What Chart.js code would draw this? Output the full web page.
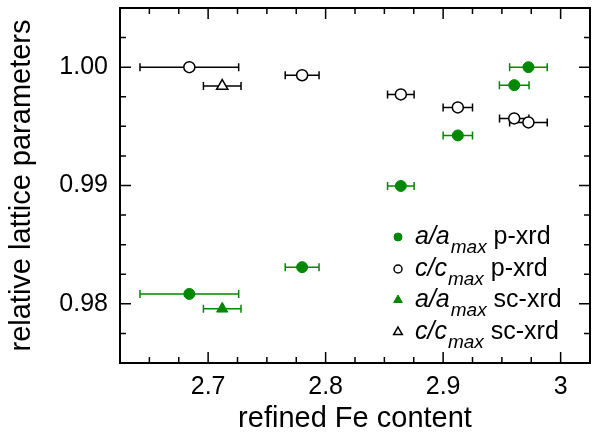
<!DOCTYPE html>
<html><head><meta charset="utf-8">
<script src="https://cdn.jsdelivr.net/npm/chart.js@4.4.0/dist/chart.umd.min.js"></script>
<style>html,body{margin:0;padding:0;background:#fff;} canvas{display:block;}</style>
</head><body>
<canvas id="c" width="598" height="434"></canvas>
<script>
// ---- data ----
const xTicks = [2.7, 2.8, 2.9, 3];
const yTicks = [0.98, 0.99, 1.00];

const aP_x    = [2.684, 2.780, 2.864, 2.9125, 2.9605, 2.9726];
const aP_y    = [0.98084, 0.98310, 0.98996, 0.99423, 0.99848, 1.00000];
const aP_xerr = [0.042, 0.0144, 0.0113, 0.0125, 0.0126, 0.016];

const cP_x    = [2.684, 2.780, 2.864, 2.9125, 2.9605, 2.9726];
const cP_y    = [1.00000, 0.99932, 0.99770, 0.99660, 0.99567, 0.99533];
const cP_xerr = [0.042, 0.0144, 0.0113, 0.0125, 0.0125, 0.016];

const aS_x = [2.712], aS_y = [0.97958], aS_xerr = [0.016];
const cS_x = [2.712], cS_y = [0.99840], cS_xerr = [0.016];

const legendMain   = ['a/a', 'c/c', 'a/a', 'c/c'];
const legendSub    = 'max';
const legendSuffix = ['p-xrd', 'p-xrd', 'sc-xrd', 'sc-xrd'];

// ---- styling ----
const FONT = "'Liberation Sans', Arial, Helvetica, sans-serif";
const GREEN = '#008800';
const pts = (xs, ys) => xs.map((x, i) => ({x, y: ys[i]}));

const datasets = [
  {label: 'a/amax p-xrd', data: pts(aP_x, aP_y), xerr: aP_xerr, pointStyle: 'circle', pointRadius: 5.5,
   backgroundColor: GREEN, borderColor: GREEN, borderWidth: 1, errColor: GREEN},
  {label: 'c/cmax p-xrd', data: pts(cP_x, cP_y), xerr: cP_xerr, pointStyle: 'circle', pointRadius: 5.5,
   backgroundColor: '#fff', borderColor: '#000', borderWidth: 1.5, errColor: '#000'},
  {label: 'a/amax sc-xrd', data: pts(aS_x, aS_y), xerr: aS_xerr, pointStyle: 'triangle', pointRadius: 6.5,
   backgroundColor: GREEN, borderColor: GREEN, borderWidth: 1, errColor: GREEN},
  {label: 'c/cmax sc-xrd', data: pts(cS_x, cS_y), xerr: cS_xerr, pointStyle: 'triangle', pointRadius: 6.5,
   backgroundColor: '#fff', borderColor: '#000', borderWidth: 1.5, errColor: '#000'}
];

const errorBars = {
  id: 'errorBars',
  beforeDatasetsDraw(chart) {
    const ctx = chart.ctx, xs = chart.scales.x, ys = chart.scales.y;
    ctx.save();
    chart.data.datasets.forEach(ds => {
      ctx.strokeStyle = ds.errColor; ctx.lineWidth = 1.5;
      ds.data.forEach((p, i) => {
        const e = ds.xerr[i];
        const x1 = xs.getPixelForValue(p.x - e), x2 = xs.getPixelForValue(p.x + e);
        const y = ys.getPixelForValue(p.y);
        ctx.beginPath();
        ctx.moveTo(x1, y); ctx.lineTo(x2, y);
        ctx.moveTo(x1, y - 4); ctx.lineTo(x1, y + 4);
        ctx.moveTo(x2, y - 4); ctx.lineTo(x2, y + 4);
        ctx.stroke();
      });
    });
    ctx.restore();
  }
};

const frame = {
  id: 'frame',
  afterDatasetsDraw(chart) {
    const ctx = chart.ctx, a = chart.chartArea, xs = chart.scales.x, ys = chart.scales.y;
    ctx.save();
    ctx.strokeStyle = '#000';
    ctx.lineWidth = 1.5;
    const majorX = new Set(xTicks.map(v => v.toFixed(3)));
    for (let k = 0; ; k++) {
      const v = xs.min + k * 0.025;
      if (v > xs.max + 1e-9) break;
      const px = xs.getPixelForValue(v);
      const len = majorX.has(v.toFixed(3)) ? 11 : 6;
      ctx.beginPath();
      ctx.moveTo(px, a.bottom); ctx.lineTo(px, a.bottom - len);
      ctx.moveTo(px, a.top); ctx.lineTo(px, a.top + len);
      ctx.stroke();
    }
    const majorY = new Set(yTicks.map(v => v.toFixed(4)));
    for (let k = 0; ; k++) {
      const v = ys.min + k * 0.0025;
      if (v > ys.max + 1e-9) break;
      const py = ys.getPixelForValue(v);
      const len = majorY.has(v.toFixed(4)) ? 11 : 6;
      ctx.beginPath();
      ctx.moveTo(a.left, py); ctx.lineTo(a.left + len, py);
      ctx.moveTo(a.right, py); ctx.lineTo(a.right - len, py);
      ctx.stroke();
    }
    ctx.lineWidth = 2;
    ctx.strokeRect(a.left, a.top, a.right - a.left, a.bottom - a.top);
    ctx.restore();
  }
};

const legendPlugin = {
  id: 'customLegend',
  afterDraw(chart) {
    const ctx = chart.ctx;
    const mx = 398, tx = 415, rows = [237, 269, 300, 332];
    const markers = [
      {style: 'circle', r: 4, fill: GREEN, stroke: GREEN, w: 1},
      {style: 'circle', r: 4, fill: '#fff', stroke: '#000', w: 1.5},
      {style: 'triangle', r: 5, fill: GREEN, stroke: GREEN, w: 1},
      {style: 'triangle', r: 5, fill: '#fff', stroke: '#000', w: 1.5}
    ];
    ctx.save();
    rows.forEach((y, i) => {
      const m = markers[i];
      ctx.fillStyle = m.fill; ctx.strokeStyle = m.stroke; ctx.lineWidth = m.w;
      Chart.helpers.drawPoint(ctx, {pointStyle: m.style, radius: m.r, borderWidth: m.w}, mx, y);
      ctx.fillStyle = '#000';
      ctx.textBaseline = 'alphabetic';
      ctx.textAlign = 'left';
      const base = y + 7;
      ctx.font = 'italic 25px ' + FONT;
      ctx.fillText(legendMain[i], tx, base);
      let x = tx + ctx.measureText(legendMain[i]).width + 1;
      ctx.font = 'italic 19px ' + FONT;
      ctx.fillText(legendSub, x, base + 9);
      x += ctx.measureText(legendSub).width;
      ctx.font = '25px ' + FONT;
      ctx.fillText(' ' + legendSuffix[i], x, base);
    });
    ctx.restore();
  }
};

new Chart(document.getElementById('c'), {
  type: 'scatter',
  data: {datasets},
  options: {
    responsive: false, animation: false, devicePixelRatio: 1,
    layout: {padding: {top: 7, right: 5, left: 0, bottom: 0}},
    plugins: {legend: {display: false}, tooltip: {enabled: false}},
    scales: {
      x: {
        type: 'linear', min: 2.625, max: 3.025,
        grid: {display: false, drawTicks: false}, border: {display: false},
        afterBuildTicks: s => { s.ticks = xTicks.map(v => ({value: v})); },
        afterFit: s => { s.height = 71; s.paddingLeft = 0; s.paddingRight = 0; },
        ticks: {padding: 9, color: '#000', font: {family: FONT, size: 25}, callback: v => String(v)},
        title: {display: true, text: 'refined Fe content', color: '#000', font: {family: FONT, size: 29, lineHeight: 1}, padding: {top: 0, bottom: 1}}
      },
      y: {
        type: 'linear', min: 0.975, max: 1.005,
        grid: {display: false, drawTicks: false}, border: {display: false},
        afterBuildTicks: s => { s.ticks = yTicks.map(v => ({value: v})); },
        afterFit: s => { s.width = 120; s.paddingTop = 0; s.paddingBottom = 0; },
        ticks: {padding: 12, color: '#000', font: {family: FONT, size: 25}, callback: v => v.toFixed(2)},
        title: {display: true, text: 'relative lattice parameters', color: '#000', font: {family: FONT, size: 29, lineHeight: 1}, padding: {top: 7, bottom: 0}}
      }
    }
  },
  plugins: [errorBars, frame, legendPlugin]
});
</script>
</body></html>
